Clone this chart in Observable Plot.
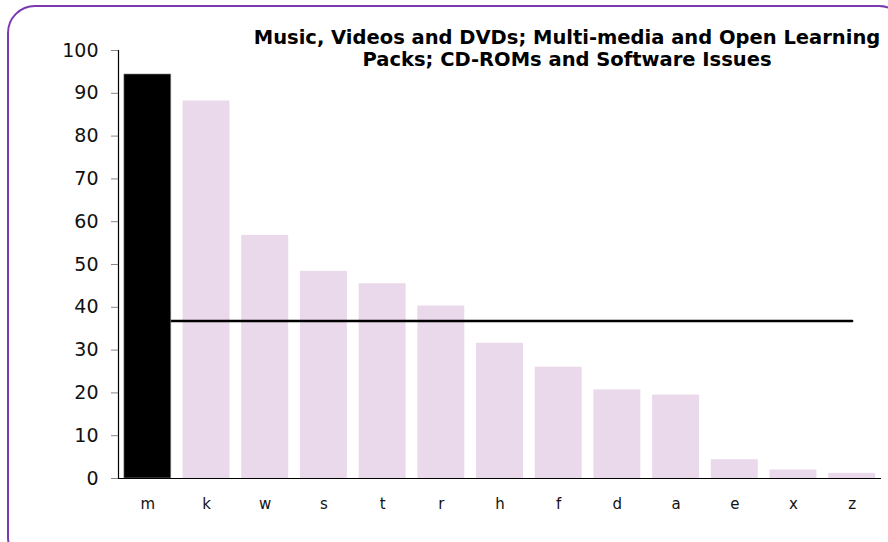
<!DOCTYPE html>
<html>
<head>
<meta charset="utf-8">
<script src="https://cdn.jsdelivr.net/npm/d3@7"></script>
<script src="https://cdn.jsdelivr.net/npm/@observablehq/plot@0.6"></script>
<style>
  html, body { margin: 0; padding: 0; background: #fff; }
  #wrap { position: relative; width: 888px; height: 542px; overflow: hidden; }
  #wrap svg { position: absolute; left: 0; top: 0; }
  #border { position: absolute; left: 7px; top: 5px; width: 900px; height: 560px; z-index: 2;
            border: 2px solid #7A3AB0; border-radius: 28px; box-sizing: border-box; pointer-events: none; }
</style>
</head>
<body>
<div id="wrap"><div id="border"></div></div>
<script>
const categories = ["m", "k", "w", "s", "t", "r", "h", "f", "d", "a", "e", "x", "z"];
const values = [94.4, 88.2, 56.8, 48.4, 45.5, 40.3, 31.6, 26.0, 20.7, 19.5, 4.4, 2.0, 1.2];
const average = 36.8;
const highlight = "m";
const yTicks = [0, 10, 20, 30, 40, 50, 60, 70, 80, 90, 100];
const titleLines = ["Music, Videos and DVDs; Multi-media and Open Learning", "Packs; CD-ROMs and Software Issues"];

const data = categories.map((c, i) => ({cat: c, value: values[i]}));
const pink = "#EAD9EB";

const chart = Plot.plot({
  width: 888,
  height: 542,
  marginLeft: 118,
  marginRight: 7,
  marginTop: 50,
  marginBottom: 64,
  style: {fontFamily: "DejaVu Sans, Verdana, sans-serif", background: "transparent", overflow: "visible"},
  x: {domain: categories, paddingInner: 0.2, paddingOuter: 0.1, round: false, label: null},
  y: {domain: [0, 100], label: null},
  marks: [
    Plot.barY(data.filter(d => d.cat !== highlight), {x: "cat", y: "value", fill: pink}),
    Plot.lineY(categories, {x: d => d, y: () => average, stroke: "black", strokeWidth: 2.4}),
    Plot.barY(data.filter(d => d.cat === highlight), {x: "cat", y: "value", fill: "black", stroke: "#9a9a9a", strokeWidth: 0.6}),
    Plot.axisY({ticks: yTicks, tickSize: 7, tickPadding: 13, stroke: "#888", fontSize: 19, fill: "#111", label: null}),
    Plot.axisX({tickSize: 0, tickPadding: 20, fontSize: 15, fill: "#111", label: null}),
    Plot.frame({anchor: "left", stroke: "black", strokeWidth: 1.2}),
    Plot.ruleY([0], {stroke: "black", strokeWidth: 1.2}),
    Plot.text([titleLines.join("\n")], {frameAnchor: "top", dx: 67, dy: -22, text: d => d, textAnchor: "middle", fontWeight: "bold", fontSize: 19.5, lineHeight: 1.13, fill: "#000"})
  ]
});
document.getElementById("wrap").prepend(chart);
</script>
</body>
</html>
